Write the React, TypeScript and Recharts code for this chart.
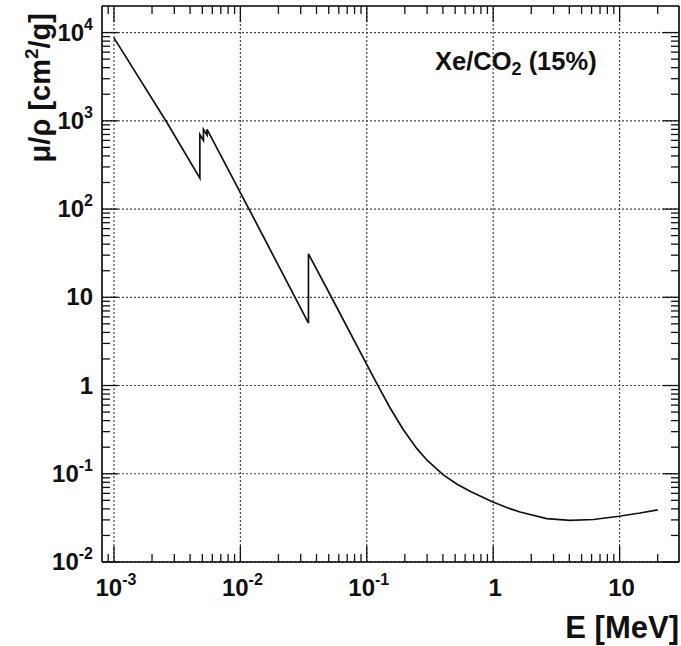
import React from 'react';
import { LineChart, Line, XAxis, YAxis, ReferenceLine } from 'recharts';

// Photon energy (MeV) and mass attenuation coefficient mu/rho (cm^2/g) for Xe/CO2 (15%)
const energy = [
  1.0e-3, 2.63e-3, 4.78e-3, 4.78e-3, 5.1e-3, 5.1e-3, 5.45e-3, 5.45e-3,
  1.17e-2, 3.456e-2, 3.456e-2, 5.42e-2, 9.77e-2, 0.1228, 0.1526, 0.1934,
  0.2482, 0.2995, 0.4007, 0.5143, 0.6553, 0.9838, 1.279, 1.629, 2.651, 4.052,
  6.194, 9.89, 14.5, 20,
];
const muRho = [
  8700, 950, 224, 700, 600, 800, 690, 800,
  100, 5.1, 31, 9.2, 1.84, 0.99, 0.5603, 0.3197,
  0.1937, 0.1423, 0.0978, 0.0767, 0.0634, 0.0482, 0.0414, 0.0369, 0.031, 0.0297,
  0.0303, 0.033, 0.0359, 0.039,
];

const xMajorTicks = [1e-3, 1e-2, 1e-1, 1, 10];
const xTickLabels = [['10', '-3'], ['10', '-2'], ['10', '-1'], ['1', ''], ['10', '']];
const yMajorTicks = [1e-2, 1e-1, 1, 10, 100, 1000, 1e4];
const yTickLabels = [['10', '-2'], ['10', '-1'], ['1', ''], ['10', ''], ['10', '2'], ['10', '3'], ['10', '4']];
const xDomain = [8.04e-4, 29.5];
const yDomain = [0.01, 20000];

const minorMultipliers = [2, 3, 4, 5, 6, 7, 8, 9];
const xMinorTicks = [9e-4, ...[1e-3, 1e-2, 1e-1, 1].flatMap((d) => minorMultipliers.map((m) => m * d)), 20];
const yMinorTicks = [1e-2, 1e-1, 1, 10, 100, 1000].flatMap((d) => minorMultipliers.map((m) => m * d));

const xAllTicks = [...xMajorTicks, ...xMinorTicks].sort((a, b) => a - b);
const yAllTicks = [...yMajorTicks, ...yMinorTicks].sort((a, b) => a - b);

const data = energy.map((e, i) => ({ e, mu: muRho[i] }));

const FONT = "'Liberation Sans', Arial, Helvetica, sans-serif";
const MAJOR_LEN = 16;
const MINOR_LEN = 8;
const TICK_STROKE = '#111';

const xLabelFor = (v: number) => {
  const i = xMajorTicks.indexOf(v);
  return i >= 0 ? xTickLabels[i] : null;
};
const yLabelFor = (v: number) => {
  const i = yMajorTicks.indexOf(v);
  return i >= 0 ? yTickLabels[i] : null;
};

const Pow = ({ base, exp }: { base: string; exp: string }) => (
  <>
    {base}
    {exp ? (
      <tspan dy={-11} fontSize={16}>
        {exp}
      </tspan>
    ) : null}
  </>
);

const BottomTick = (props: any) => {
  const { x, y, payload } = props;
  const lab = xLabelFor(payload.value);
  const len = lab ? MAJOR_LEN : MINOR_LEN;
  return (
    <g>
      <line x1={x} x2={x} y1={y} y2={y - len} stroke={TICK_STROKE} strokeWidth={1.3} />
      {lab && (
        <text
          x={x + 2}
          y={y + 34}
          textAnchor="middle"
          fontFamily={FONT}
          fontWeight={700}
          fontSize={24}
          fill="#111"
        >
          <Pow base={lab[0]} exp={lab[1]} />
        </text>
      )}
    </g>
  );
};

const TopTick = (props: any) => {
  const { x, y, payload } = props;
  const major = xMajorTicks.includes(payload.value);
  const len = major ? MAJOR_LEN : MINOR_LEN;
  return <line x1={x} x2={x} y1={y} y2={y + len} stroke={TICK_STROKE} strokeWidth={1.3} />;
};

const LeftTick = (props: any) => {
  const { x, y, payload } = props;
  const lab = yLabelFor(payload.value);
  const len = lab ? MAJOR_LEN : MINOR_LEN;
  return (
    <g>
      <line x1={x} x2={x + len} y1={y} y2={y} stroke={TICK_STROKE} strokeWidth={1.3} />
      {lab && (
        <text
          x={x - 9}
          y={y + 8}
          textAnchor="end"
          fontFamily={FONT}
          fontWeight={700}
          fontSize={24}
          fill="#111"
        >
          <Pow base={lab[0]} exp={lab[1]} />
        </text>
      )}
    </g>
  );
};

const RightTick = (props: any) => {
  const { x, y, payload } = props;
  const major = yMajorTicks.includes(payload.value);
  const len = major ? MAJOR_LEN : MINOR_LEN;
  return <line x1={x} x2={x - len} y1={y} y2={y} stroke={TICK_STROKE} strokeWidth={1.3} />;
};

const axisLine = { stroke: '#000', strokeWidth: 1.6 };

export default function App() {
  return (
    <div style={{ position: 'absolute', left: 0, top: 0, width: 681, height: 646, background: '#fff' }}>
      <LineChart
        width={681}
        height={646}
        data={data}
        margin={{ top: 5, right: 1, bottom: 24, left: 12 }}
      >
        <XAxis
          xAxisId={0}
          dataKey="e"
          type="number"
          scale="log"
          domain={xDomain}
          allowDataOverflow
          ticks={xAllTicks}
          interval={0}
          orientation="bottom"
          height={60}
          tickSize={0}
          tickMargin={0}
          tickLine={false}
          axisLine={axisLine}
          tick={(p: any) => <BottomTick {...p} />}
        />
        <XAxis
          xAxisId="top"
          dataKey="e"
          type="number"
          scale="log"
          domain={xDomain}
          allowDataOverflow
          ticks={xAllTicks}
          interval={0}
          orientation="top"
          height={1}
          tickSize={0}
          tickMargin={0}
          tickLine={false}
          axisLine={axisLine}
          tick={(p: any) => <TopTick {...p} />}
        />
        <YAxis
          yAxisId={0}
          type="number"
          scale="log"
          domain={yDomain}
          allowDataOverflow
          ticks={yAllTicks}
          interval={0}
          orientation="left"
          width={90}
          tickSize={0}
          tickMargin={0}
          tickLine={false}
          axisLine={axisLine}
          tick={(p: any) => <LeftTick {...p} />}
        />
        <YAxis
          yAxisId="right"
          type="number"
          scale="log"
          domain={yDomain}
          allowDataOverflow
          ticks={yAllTicks}
          interval={0}
          orientation="right"
          width={1}
          tickSize={0}
          tickMargin={0}
          tickLine={false}
          axisLine={axisLine}
          tick={(p: any) => <RightTick {...p} />}
        />
        {xMajorTicks.map((t) => (
          <ReferenceLine
            key={'gx' + t}
            x={t}
            xAxisId={0}
            yAxisId={0}
            stroke="#444"
            strokeWidth={1.2}
            strokeDasharray="2 2"
          />
        ))}
        {yMajorTicks.map((t) => (
          <ReferenceLine
            key={'gy' + t}
            y={t}
            xAxisId={0}
            yAxisId={0}
            stroke="#444"
            strokeWidth={1.2}
            strokeDasharray="2 2"
          />
        ))}
        <Line
          xAxisId={0}
          yAxisId={0}
          dataKey="mu"
          type="linear"
          stroke="#111"
          strokeWidth={1.7}
          dot={false}
          isAnimationActive={false}
        />
      </LineChart>
      <svg
        width={681}
        height={646}
        style={{ position: 'absolute', left: 0, top: 0, pointerEvents: 'none' }}
      >
        <text
          x={50}
          y={13}
          transform="rotate(-90 50 13)"
          textAnchor="end"
          fontFamily={FONT}
          fontWeight={700}
          fontSize={29}
          fill="#111"
        >
          μ/ρ [cm
          <tspan dy={-12} fontSize={19}>2</tspan>
          <tspan dy={12}>/g]</tspan>
        </text>
        <text
          x={679}
          y={638}
          textAnchor="end"
          fontFamily={FONT}
          fontWeight={700}
          fontSize={31}
          fill="#111"
        >
          E [MeV]
        </text>
        <text x={435} y={70} fontFamily={FONT} fontWeight={700} fontSize={25.5} fill="#111">
          Xe/CO
          <tspan dy={5} fontSize={18}>2</tspan>
          <tspan dy={-5}> (15%)</tspan>
        </text>
      </svg>
    </div>
  );
}
